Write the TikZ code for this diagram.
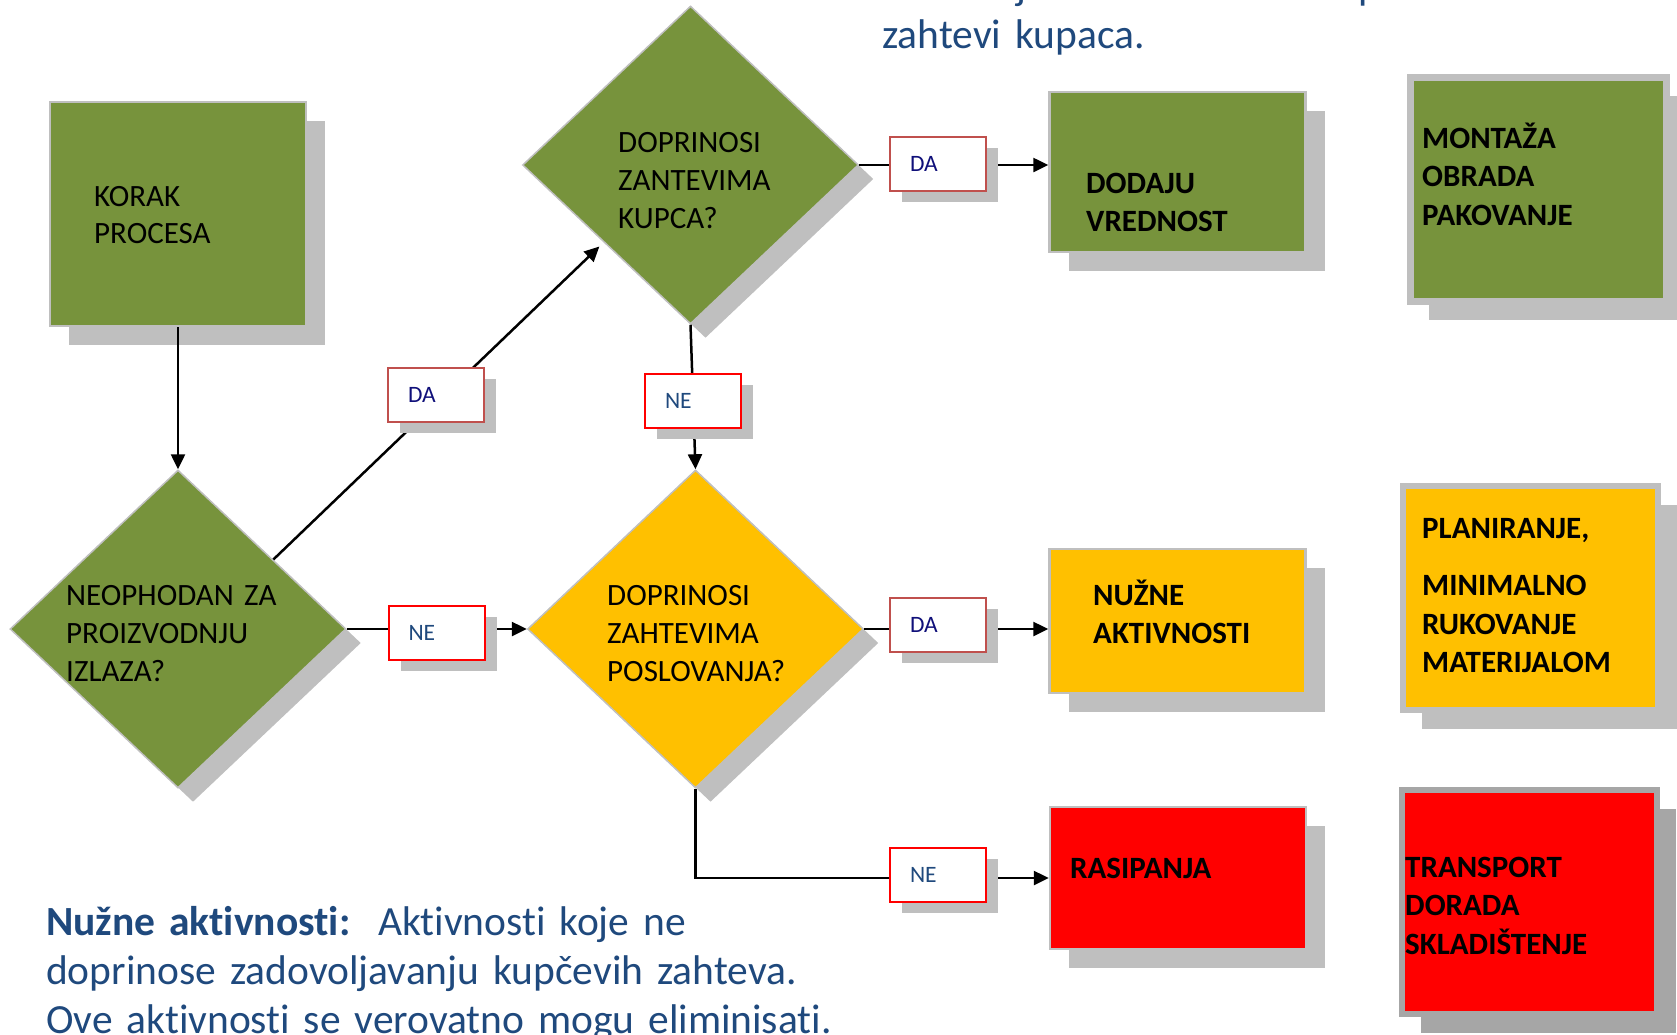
\documentclass[tikz,border=0pt]{standalone}
\usepackage{fontspec}
\setmainfont{Carlito}[Ligatures={NoCommon}]
\usetikzlibrary{shapes.geometric,shadows,arrows.meta,calc}

\definecolor{olive}{HTML}{77933C}
\definecolor{amber}{HTML}{FFC000}
\definecolor{alarm}{HTML}{FF0000}
\definecolor{shade}{HTML}{BFBFBF}
\definecolor{shadedark}{HTML}{A6A6A6}
\definecolor{notecol}{HTML}{1F497D}
\definecolor{dacol}{HTML}{10107A}
\definecolor{mutedred}{HTML}{C0504D}

\begin{document}
\begin{tikzpicture}[x=1pt,y=-1pt,
  boxshadow/.style={drop shadow={shadow xshift=19pt, shadow yshift=-19pt, fill=#1, opacity=1}},
  stepbox/.style={draw=shade, line width=2.5pt, fill=#1, inner sep=0pt,
    minimum width=256pt, boxshadow=shade},
  framebox/.style={draw=shade, line width=7pt, fill=#1, inner sep=0pt,
    minimum width=256pt, minimum height=224pt, boxshadow=shade},
  decision/.style={shape=diamond, draw=shade, line width=1.5pt, fill=#1, inner sep=0pt,
    minimum width=336pt, minimum height=318pt,
    drop shadow={shadow xshift=15pt, shadow yshift=-14pt, fill=shade, opacity=1}},
  tag/.style={draw=#1, line width=2pt, fill=white, inner sep=0pt,
    minimum width=96pt, minimum height=54pt,
    font=\fontsize{23.5}{26}\selectfont,
    drop shadow={shadow xshift=12pt, shadow yshift=-11pt, fill=shade, opacity=1}},
  conn/.style={line width=2.5pt, -{Triangle[length=15pt,width=14pt]}},
  plain/.style={anchor=base west, inner sep=0pt, align=left, text width=330pt,
    font=\fontsize{31}{38}\selectfont},
  strong/.style={plain, font=\fontsize{31}{38.5}\selectfont\bfseries},
  note/.style={anchor=base west, inner sep=0pt, align=left, text width=900pt,
    text=notecol, font=\fontsize{41.5}{49}\selectfont},
]
\useasboundingbox (0,0) rectangle (1677,1034);
\clip (0,0) rectangle (1677,1034);

% process step and decisions
\node[stepbox=olive, minimum height=224pt] (korak) at (178,214) {};
\node[decision=olive] (d1) at (690.5,165) {};
\node[decision=olive] (d2) at (178,629) {};
\node[decision=amber] (d3) at (695.5,629) {};

% outcome boxes
\node[stepbox=olive, minimum height=160pt] (dod) at (1177.5,172) {};
\node[stepbox=amber, minimum height=144pt] (nuz) at (1177.5,621) {};
\node[stepbox=alarm, minimum height=142pt] (rasi) at (1178,878) {};

% example boxes
\node[framebox=olive] (mont) at (1538,189) {};
\node[framebox=amber, line width=6pt, minimum width=255pt] (plan) at (1530.5,598) {};
\node[framebox=alarm, draw=shadedark, line width=6pt, minimum width=255pt,
  drop shadow={shadow xshift=19pt, shadow yshift=-19pt, fill=shadedark, opacity=1}]
  (trans) at (1529.5,902) {};

% connectors
\draw[conn] (korak.south) -- (d2.north);
\draw[conn] ($(d2.north)!0.565!(d2.east)$) -- ($(d1.west)!0.46!(d1.south)+(0,8)$);
\draw[conn] (d1.south) -- (d3.north);
\draw[conn] (d2.east) -- (d3.west);
\draw[conn] (d1.east) -- (d1.east -| dod.west);
\draw[conn] (d3.east) -- (d3.east -| nuz.west);
\draw[conn] (d3.south) |- (rasi.west);

% answer tags on the connectors
\node[tag=mutedred, text=dacol] (daA) at (436,395) {\makebox[56pt][l]{DA}};
\node[tag=alarm, text=notecol] (neA) at (693,400.5) {\makebox[56pt][l]{NE}};
\node[tag=alarm, text=notecol] (neB) at (436.5,632.5) {\makebox[56pt][l]{NE}};
\node[tag=mutedred, text=dacol] (daB) at (938,164) {\makebox[56pt][l]{DA}};
\node[tag=mutedred, text=dacol] (daC) at (938,625) {\makebox[56pt][l]{DA}};
\node[tag=alarm, text=notecol] (neC) at (938,875) {\makebox[56pt][l]{NE}};

% texts
\node[plain, font=\fontsize{31}{37}\selectfont] (tkorak) at (94,206) {KORAK\\PROCESA};
\node[plain] (td1) at (618,152) {DOPRINOSI\\ZANTEVIMA\\KUPCA?};
\node[plain] (td2) at (66,605) {NEOPHODAN ZA\\PROIZVODNJU\\IZLAZA?};
\node[plain] (td3) at (607,605) {DOPRINOSI\\ZAHTEVIMA\\POSLOVANJA?};
\node[strong] (tdod) at (1086,193) {DODAJU\\VREDNOST};
\node[strong] (tmont) at (1422,148) {MONTAŽA\\OBRADA\\PAKOVANJE};
\node[strong] (tnuz) at (1093,605) {NUŽNE\\AKTIVNOSTI};
\node[strong] (tplan) at (1422,538) {PLANIRANJE,\\[19pt]MINIMALNO\\RUKOVANJE\\MATERIJALOM};
\node[strong] (trasi) at (1070,878) {RASIPANJA};
\node[strong] (ttrans) at (1405,877) {TRANSPORT\\DORADA\\SKLADIŠTENJE};

% explanatory notes
\node[note] (topnote) at (882,48) {zahtevi kupaca.};
\node[note] (topj) at (1016,-1) {j};
\node[note] (topp) at (1358,-1) {p};
\node[note] (bottomnote) at (46,935)
  {\textbf{Nužne aktivnosti:}\ \ Aktivnosti koje ne\\doprinose zadovoljavanju kupčevih zahteva.\\Ove aktivnosti se verovatno mogu eliminisati.};
\end{tikzpicture}
\end{document}
